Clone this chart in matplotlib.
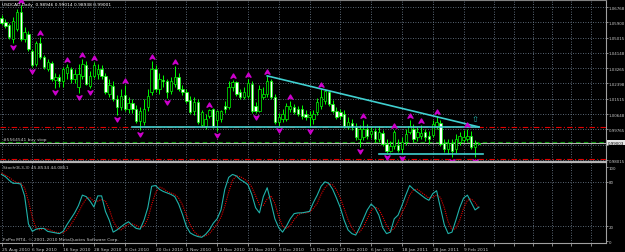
import matplotlib
matplotlib.use("Agg")
import matplotlib.pyplot as plt
from matplotlib.path import Path
from matplotlib import transforms

# USDCAD daily, 25 Aug 2010 .. 15 Feb 2011
opens = [1.0614, 1.0591, 1.0574, 1.0494, 1.0551, 1.0649, 1.0494, 1.0523, 1.0426, 1.0351,
         1.0471, 1.0391, 1.0323, 1.0357, 1.0260, 1.0277, 1.0254, 1.0300, 1.0323, 1.0265,
         1.0220, 1.0283, 1.0345, 1.0225, 1.0283, 1.0294, 1.0323, 1.0283, 1.0180, 1.0225,
         1.0151, 1.0105, 1.0174, 1.0094, 1.0128, 1.0094, 1.0025, 1.0019, 1.0105, 1.0191,
         1.0323, 1.0208, 1.0260, 1.0254, 1.0197, 1.0237, 1.0277, 1.0208, 1.0191, 1.0145,
         1.0082, 1.0134, 1.0002, 0.9997, 1.0054, 1.0094, 1.0031, 1.0037, 1.0111, 1.0105,
         1.0220, 1.0248, 1.0191, 1.0162, 1.0168, 1.0237, 1.0111, 1.0082, 1.0162, 1.0180,
         1.0254, 1.0162, 1.0019, 1.0037, 1.0037, 1.0094, 1.0105, 1.0094, 1.0094, 1.0065,
         1.0048, 1.0037, 1.0077, 1.0111, 1.0139, 1.0191, 1.0122, 1.0082, 1.0077, 1.0065,
         0.9997, 1.0014, 0.9991, 0.9922, 0.9934, 0.9979, 0.9951, 0.9968, 0.9922, 0.9957,
         0.9894, 0.9854, 0.9882, 0.9888, 0.9865, 0.9905, 0.9962, 0.9979, 0.9934, 0.9939,
         0.9962, 0.9939, 0.9945, 0.9997, 1.0014, 0.9899, 0.9865, 0.9899, 0.9865, 0.9905,
         0.9916, 0.9922, 0.9939, 0.9876, 0.98946]
highs = [1.0631, 1.0609, 1.0586, 1.0620, 1.0666, 1.0689, 1.0563, 1.0540, 1.0437, 1.0483,
         1.0506, 1.0403, 1.0380, 1.0368, 1.0300, 1.0294, 1.0334, 1.0351, 1.0334, 1.0323,
         1.0351, 1.0380, 1.0368, 1.0311, 1.0363, 1.0351, 1.0345, 1.0300, 1.0265, 1.0254,
         1.0174, 1.0208, 1.0231, 1.0162, 1.0151, 1.0117, 1.0105, 1.0151, 1.0208, 1.0368,
         1.0345, 1.0300, 1.0288, 1.0265, 1.0277, 1.0340, 1.0300, 1.0231, 1.0208, 1.0168,
         1.0162, 1.0151, 1.0088, 1.0065, 1.0094, 1.0100, 1.0088, 1.0088, 1.0139, 1.0254,
         1.0260, 1.0254, 1.0208, 1.0220, 1.0265, 1.0254, 1.0134, 1.0231, 1.0220, 1.0283,
         1.0265, 1.0180, 1.0071, 1.0094, 1.0128, 1.0139, 1.0122, 1.0111, 1.0117, 1.0088,
         1.0082, 1.0088, 1.0157, 1.0208, 1.0202, 1.0200, 1.0145, 1.0105, 1.0094, 1.0088,
         1.0048, 1.0037, 1.0014, 1.0002, 1.0031, 1.0008, 0.9991, 0.9985, 0.9997, 0.9974,
         0.9922, 0.9911, 0.9974, 0.9922, 0.9934, 0.9979, 1.0031, 1.0008, 0.9991, 1.0002,
         0.9979, 0.9968, 1.0031, 1.0054, 1.0031, 0.9922, 0.9922, 0.9922, 0.9951, 0.9962,
         0.9974, 0.9979, 0.9970, 0.9916, 0.99014]
lows = [1.0574, 1.0557, 1.0494, 1.0471, 1.0540, 1.0483, 1.0477, 1.0426, 1.0334, 1.0340,
        1.0380, 1.0323, 1.0311, 1.0254, 1.0214, 1.0220, 1.0220, 1.0265, 1.0243, 1.0243,
        1.0185, 1.0265, 1.0231, 1.0214, 1.0271, 1.0265, 1.0265, 1.0180, 1.0162, 1.0139,
        1.0059, 1.0088, 1.0082, 1.0071, 1.0071, 1.0014, 0.9974, 1.0002, 1.0082, 1.0174,
        1.0191, 1.0180, 1.0220, 1.0157, 1.0180, 1.0220, 1.0197, 1.0174, 1.0128, 1.0065,
        1.0059, 1.0008, 0.9991, 0.9979, 1.0042, 0.9985, 0.9968, 1.0019, 1.0071, 1.0094,
        1.0197, 1.0168, 1.0151, 1.0151, 1.0157, 1.0071, 1.0071, 1.0076, 1.0151, 1.0162,
        1.0151, 1.0008, 0.9997, 1.0019, 1.0025, 1.0077, 1.0065, 1.0054, 1.0037, 1.0031,
        0.9991, 1.0008, 1.0059, 1.0094, 1.0122, 1.0111, 1.0071, 1.0037, 1.0037, 0.9985,
        0.9979, 0.9974, 0.9916, 0.9876, 0.9916, 0.9922, 0.9928, 0.9905, 0.9905, 0.9882,
        0.9842, 0.9848, 0.9865, 0.9848, 0.9836, 0.9888, 0.9951, 0.9905, 0.9911, 0.9922,
        0.9911, 0.9894, 0.9934, 0.9979, 0.9882, 0.9848, 0.9836, 0.9819, 0.9842, 0.9888,
        0.9905, 0.9911, 0.9865, 0.9819, 0.98938]
closes = [1.0586, 1.0569, 1.0506, 1.0597, 1.0649, 1.0494, 1.0534, 1.0437, 1.0345, 1.0471,
          1.0391, 1.0334, 1.0363, 1.0265, 1.0277, 1.0254, 1.0323, 1.0334, 1.0265, 1.0294,
          1.0294, 1.0351, 1.0237, 1.0283, 1.0345, 1.0323, 1.0283, 1.0191, 1.0231, 1.0151,
          1.0105, 1.0168, 1.0094, 1.0128, 1.0094, 1.0025, 1.0082, 1.0094, 1.0168, 1.0323,
          1.0208, 1.0265, 1.0254, 1.0191, 1.0254, 1.0277, 1.0208, 1.0191, 1.0139, 1.0077,
          1.0134, 1.0019, 1.0077, 1.0037, 1.0088, 0.9997, 1.0082, 1.0082, 1.0094, 1.0220,
          1.0248, 1.0180, 1.0162, 1.0191, 1.0243, 1.0082, 1.0082, 1.0208, 1.0180, 1.0254,
          1.0162, 1.0019, 1.0048, 1.0065, 1.0111, 1.0111, 1.0077, 1.0065, 1.0054, 1.0048,
          1.0059, 1.0065, 1.0134, 1.0162, 1.0197, 1.0122, 1.0082, 1.0048, 1.0054, 0.9997,
          1.0019, 0.9991, 0.9934, 0.9979, 0.9979, 0.9939, 0.9968, 0.9922, 0.9962, 0.9894,
          0.9854, 0.9882, 0.9962, 0.9860, 0.9905, 0.9951, 0.9997, 0.9922, 0.9962, 0.9957,
          0.9934, 0.9922, 1.0008, 1.0019, 0.9894, 0.9865, 0.9899, 0.9854, 0.9922, 0.9939,
          0.9934, 0.9939, 0.9876, 0.9894, 0.99001]

# Stochastic(8,3,3): main and signal
stoch_main = [90, 87, 82, 78, 78, 77, 61, 23, 13, 16,
              17, 17, 13, 12, 11, 10, 13, 22, 30, 38,
              48, 62, 60, 54, 46, 61, 61, 40, 28, 12,
              15, 19, 23, 26, 21, 17, 16, 28, 45, 74,
              75, 70, 67, 65, 63, 60, 50, 36, 20, 11,
              8, 6, 5, 9, 15, 24, 30, 42, 70, 86,
              90, 88, 83, 80, 76, 63, 45, 38, 60, 72,
              52, 30, 18, 12, 20, 30, 37, 38, 38, 39,
              40, 52, 62, 74, 80, 78, 70, 58, 45, 28,
              15, 10, 8, 18, 30, 42, 50, 45, 35, 18,
              10, 12, 30, 35, 48, 62, 75, 70, 66, 62,
              58, 55, 64, 68, 45, 22, 10, 12, 28, 45,
              58, 62, 52, 42, 45.85]
stoch_signal = [92, 89, 86, 82, 79, 78, 72, 54, 32, 17,
                15, 17, 16, 14, 12, 11, 11, 15, 22, 30,
                39, 49, 57, 59, 53, 54, 56, 54, 43, 27,
                18, 15, 19, 23, 23, 21, 18, 20, 30, 49,
                65, 73, 71, 67, 65, 63, 58, 49, 35, 22,
                13, 8, 6, 7, 10, 16, 23, 32, 47, 66,
                82, 88, 87, 84, 80, 73, 61, 49, 48, 57,
                61, 51, 33, 20, 17, 21, 29, 35, 38, 38,
                39, 44, 51, 63, 72, 77, 76, 69, 58, 44,
                29, 18, 11, 12, 19, 30, 41, 46, 43, 33,
                21, 13, 17, 26, 38, 48, 62, 69, 70, 66,
                62, 58, 59, 62, 59, 45, 26, 15, 17, 28,
                44, 55, 57, 52, 44.09]

# fractal arrows (bar index)
up_fractals = [5, 10, 17, 21, 24, 32, 39, 45, 54, 60, 64, 69, 75, 83, 94,
               102, 106, 109, 113, 121]
down_fractals = [3, 8, 14, 20, 23, 30, 36, 43, 56, 66, 72, 80, 93, 100,
                 104, 117, 123]

# drawn objects
trend_from = (69, 1.0283)
trend_to = (124, 0.9991)
support_upper = (34, 124, 0.9991)
support_lower = (98, 125, 0.9839)
red_levels = [0.9991, 0.9808]
buy_stop = 0.9905
bid = 0.99003
alert_bar, alert_price = 123, 1.0037

date_labels = ["25 Aug 2010", "6 Sep 2010", "16 Sep 2010", "28 Sep 2010",
               "8 Oct 2010", "20 Oct 2010", "1 Nov 2010", "11 Nov 2010",
               "23 Nov 2010", "3 Dec 2010", "15 Dec 2010", "27 Dec 2010",
               "6 Jan 2011", "18 Jan 2011", "28 Jan 2011", "9 Feb 2011"]
# grid in the empty shift area on the right is closer together
shift_ticks = [128, 133, 138, 143, 148, 153]
price_ticks = [1.06768, 1.05900, 1.05015, 1.04148, 1.03265, 1.02398,
               1.01515, 1.00648, 0.99765, 0.98898, 0.98015]

W, H = 625, 253
FG = '#c8c8c8'
GRID = '#778899'
LIME = '#00ff00'
FS = 3.2
FS_AX = 2.9

fig = plt.figure(figsize=(W / 100, H / 100), dpi=100, facecolor='black')


def px_axes(x0, y0, x1, y1):
    a = fig.add_axes([x0 / W, 1 - y1 / H, (x1 - x0) / W, (y1 - y0) / H])
    a.set_facecolor('black')
    return a


def px_text(x, y, s, color=FG):
    fig.text(x / W, 1 - y / H, s, fontsize=FS, color=color, va='center')


ax = px_axes(0, 1, 606, 163)
ax2 = px_axes(0, 163, 606, 244)

n = len(closes)
idx = list(range(n))
xlim = (-0.39, 157.0)
date_ticks = [8 * k for k in range(len(date_labels))]
grid_ticks = date_ticks + shift_ticks

# ---- main price window ----
ax.vlines(idx, lows, highs, color=LIME, linewidth=0.7, zorder=3)
bottoms = [min(o, c) for o, c in zip(opens, closes)]
heights = [max(abs(c - o), 0.00015) for o, c in zip(opens, closes)]
faces = ['white' if c < o else 'black' for o, c in zip(opens, closes)]
ax.bar(idx, heights, bottom=bottoms, width=0.62, color=faces,
       edgecolor=LIME, linewidth=0.5, zorder=4)

# levels and objects
for lv in red_levels:
    ax.axhline(lv, color='#e00000', linewidth=0.8,
               linestyle=(0, (5, 2, 1, 2)), zorder=2)
ax.axhline(buy_stop, color='#009000', linewidth=0.8,
           linestyle=(0, (4, 3)), zorder=2)
ax.axhline(bid, color='#b4b4b4', linewidth=0.8, zorder=2)
ax.plot([trend_from[0], trend_to[0]], [trend_from[1], trend_to[1]],
        color='#40d0d0', linewidth=1.2, zorder=5)
ax.plot(support_upper[:2], [support_upper[2]] * 2,
        color='#40d0d0', linewidth=1.2, zorder=5)
ax.plot(support_lower[:2], [support_lower[2]] * 2,
        color='#40d0d0', linewidth=1.2, zorder=5)

# fractal arrows
up_arrow = Path([(0, 1), (1, -0.7), (0, -0.15), (-1, -0.7), (0, 1)],
                [Path.MOVETO, Path.LINETO, Path.LINETO, Path.LINETO, Path.CLOSEPOLY])
down_arrow = Path([(0, -1), (1, 0.7), (0, 0.15), (-1, 0.7), (0, -1)],
                  [Path.MOVETO, Path.LINETO, Path.LINETO, Path.LINETO, Path.CLOSEPOLY])
up_tr = transforms.offset_copy(ax.transData, fig=fig, y=3.0, units='points')
dn_tr = transforms.offset_copy(ax.transData, fig=fig, y=-2.8, units='points')
ax.plot(up_fractals, [highs[i] for i in up_fractals], linestyle='none',
        marker=up_arrow, markersize=3.6, color='#cc00cc', transform=up_tr, zorder=6)
ax.plot(down_fractals, [lows[i] for i in down_fractals], linestyle='none',
        marker=down_arrow, markersize=3.6, color='#cc00cc', transform=dn_tr, zorder=6)
ax.text(alert_bar, alert_price, '\u21e7', color='#20b2aa', fontsize=6,
        ha='center', va='center', zorder=6)

ax.set_xlim(*xlim)
ax.set_ylim(0.97906, 1.0717)
ax.set_xticks(grid_ticks)
ax.set_yticks(price_ticks)
# the 0.98898 label sits under the bid box
ax.set_yticklabels(['' if abs(p - 0.98898) < 1e-6 else '%.5f' % p
                    for p in price_ticks])
ax.yaxis.tick_right()
ax.tick_params(axis='x', length=0, labelbottom=False)
ax.tick_params(axis='y', length=1.5, width=0.6, color='#a0a0a0', pad=0.6,
               labelsize=FS_AX, labelcolor=FG)
ax.grid(True, color=GRID, linestyle=(0, (1, 2)), linewidth=0.6)
ax.set_axisbelow(True)
for s in ['left', 'bottom']:
    ax.spines[s].set_visible(False)
ax.spines['right'].set_color('#a0a0a0')
ax.spines['top'].set_color('#808080')
ax.spines['top'].set_linewidth(0.8)

# current bid label
ax.text(1.003, bid, '%.5f' % bid, transform=transforms.blended_transform_factory(
    ax.transAxes, ax.transData), fontsize=FS_AX, color='black', ha='left',
    va='center', clip_on=False, zorder=10,
    bbox=dict(facecolor='#e6e6e6', edgecolor='none', pad=0.4))

# ---- stochastic window ----
ax2.plot(idx, stoch_main, color='#20b2aa', linewidth=0.8, zorder=4)
ax2.plot(idx, stoch_signal, color='#e00000', linewidth=0.8,
         linestyle=(0, (1, 1)), zorder=3)
for lv in [20, 80]:
    ax2.axhline(lv, color=GRID, linestyle=(0, (1, 2)), linewidth=0.6)
ax2.set_xlim(*xlim)
ax2.set_ylim(-2.7, 106.8)
ax2.set_xticks(grid_ticks)
ax2.set_xticklabels(date_labels + [''] * len(shift_ticks))
for lab in ax2.get_xticklabels():
    lab.set_horizontalalignment('left')
ax2.grid(True, axis='x', color=GRID, linestyle=(0, (1, 2)), linewidth=0.6)
ax2.set_yticks([0, 20, 80, 100])
ax2.yaxis.tick_right()
ax2.tick_params(axis='y', length=1.5, width=0.6, color='#a0a0a0', pad=0.6,
                labelsize=FS_AX, labelcolor=FG)
ax2.tick_params(axis='x', length=2, width=0.6, color='#a0a0a0', pad=0.8,
                labelsize=FS, labelcolor=FG)
ax2.spines['left'].set_visible(False)
ax2.spines['top'].set_color('#b4b4b4')
ax2.spines['top'].set_linewidth(1.6)
ax2.spines['right'].set_color('#a0a0a0')
ax2.spines['bottom'].set_color('#a0a0a0')

# ---- window captions ----
px_text(2, 5, 'USDCAD,Daily  0.98946 0.99014 0.98938 0.99001', color='white')
px_text(3, 140, '#5564541 buy stop')
px_text(3, 168, 'Stoch(8,3,3) 45.8534 44.0851')
px_text(3, 240, 'FxPro MT4, \u00a9 2001-2010 MetaQuotes Software Corp.')

fig.savefig('out.png', dpi=100, facecolor='black')
